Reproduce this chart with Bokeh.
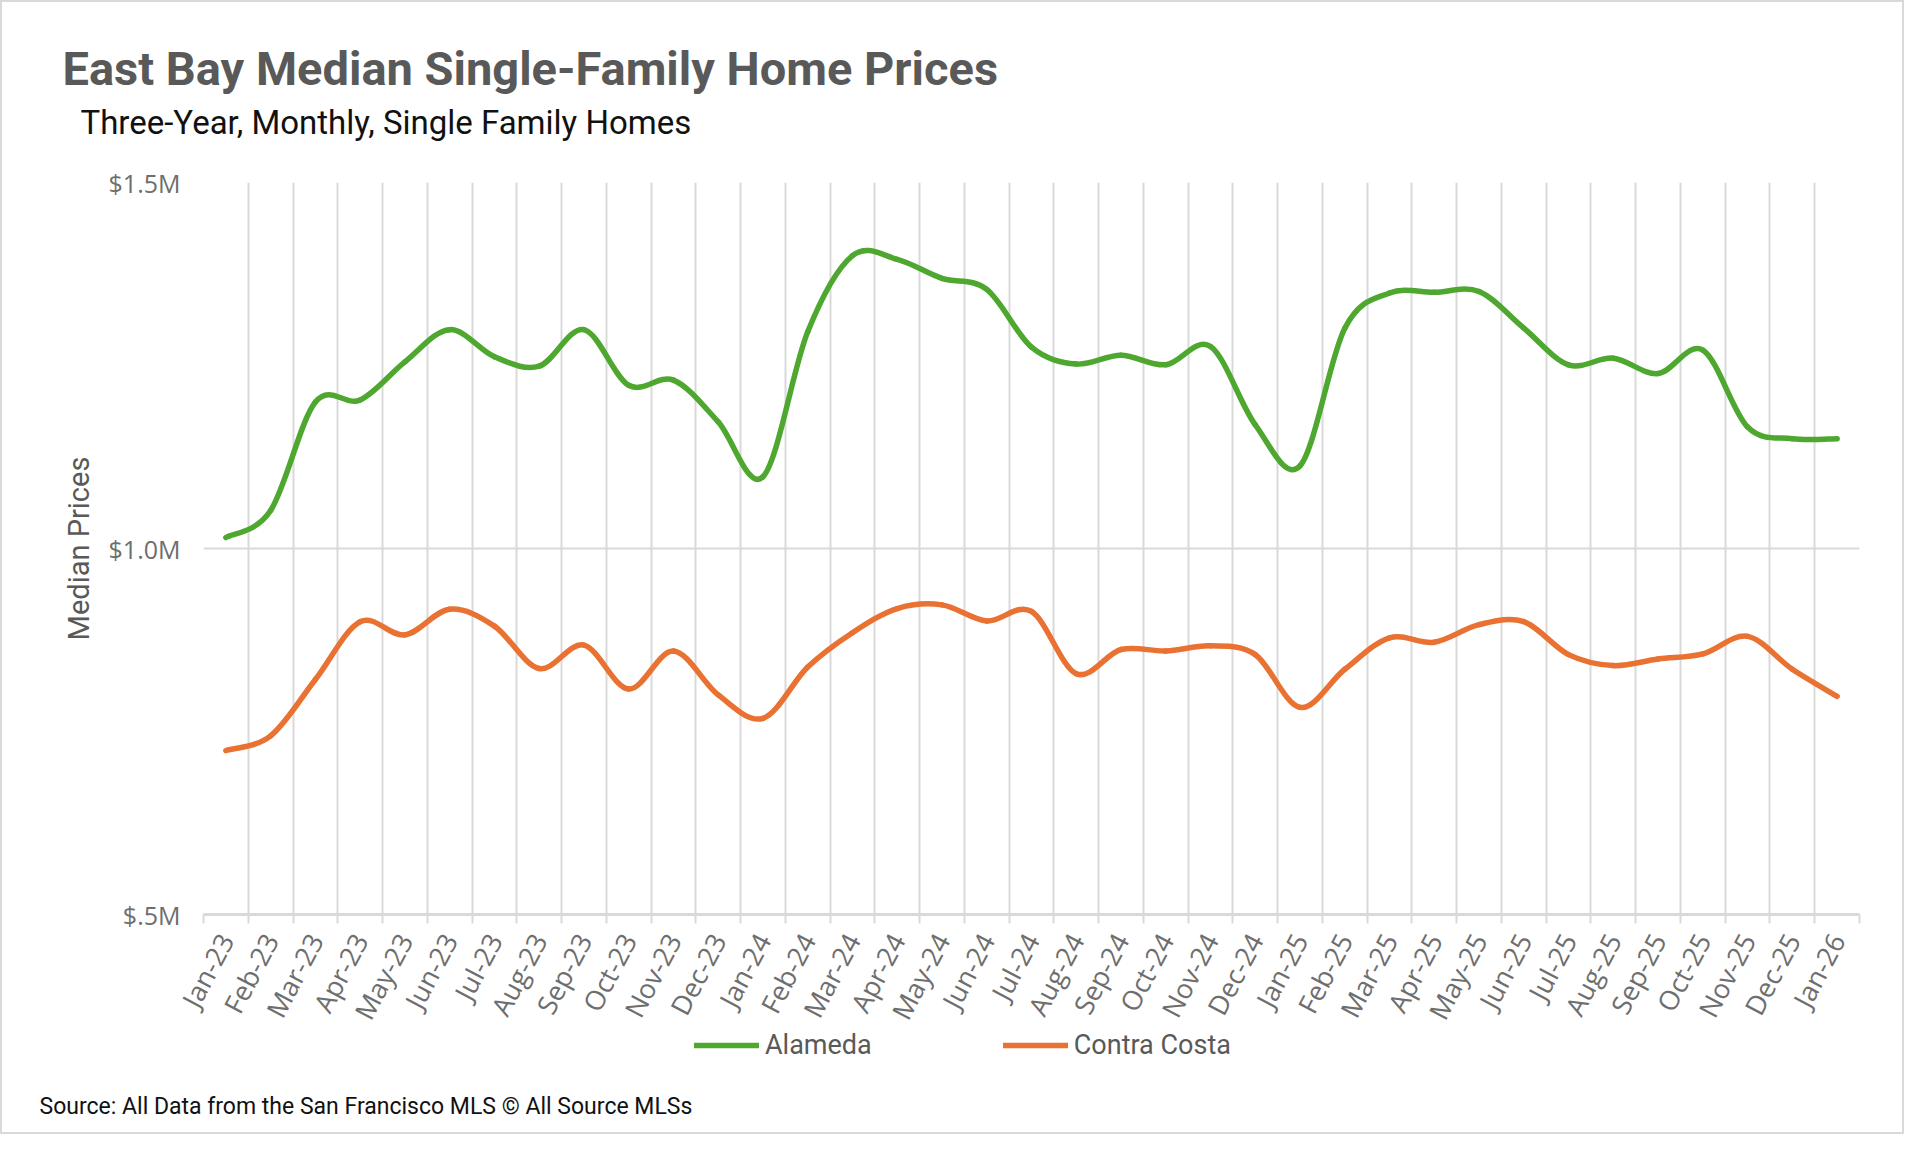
import numpy as np
from bokeh.plotting import figure
from bokeh.layouts import column
from bokeh.models import Range1d, FixedTicker, Title, Legend, LegendItem, ColumnDataSource
from bokeh.embed import file_html
from bokeh.resources import INLINE

# ---------------- data ----------------
months = ["Jan-23", "Feb-23", "Mar-23", "Apr-23", "May-23", "Jun-23", "Jul-23", "Aug-23",
          "Sep-23", "Oct-23", "Nov-23", "Dec-23", "Jan-24", "Feb-24", "Mar-24", "Apr-24",
          "May-24", "Jun-24", "Jul-24", "Aug-24", "Sep-24", "Oct-24", "Nov-24", "Dec-24",
          "Jan-25", "Feb-25", "Mar-25", "Apr-25", "May-25", "Jun-25", "Jul-25", "Aug-25",
          "Sep-25", "Oct-25", "Nov-25", "Dec-25", "Jan-26"]

# median prices in $ millions
alameda = [1.015, 1.052, 1.200, 1.203, 1.255, 1.299, 1.262, 1.249, 1.299, 1.223, 1.230, 1.173,
           1.098, 1.296, 1.400, 1.395, 1.369, 1.354, 1.275, 1.252, 1.264, 1.251, 1.276, 1.169,
           1.113, 1.301, 1.349, 1.350, 1.351, 1.301, 1.251, 1.260, 1.239, 1.271, 1.166, 1.150,
           1.150]
contra_costa = [0.724, 0.744, 0.821, 0.900, 0.882, 0.917, 0.894, 0.836, 0.868, 0.808, 0.860, 0.800,
                0.768, 0.838, 0.885, 0.918, 0.923, 0.901, 0.914, 0.829, 0.862, 0.860, 0.867, 0.855,
                0.783, 0.835, 0.878, 0.872, 0.896, 0.900, 0.855, 0.840, 0.849, 0.856, 0.880, 0.835,
                0.798]

series_names = ["Alameda", "Contra Costa"]
series_colors = ["#4EA72E", "#E97132"]

y_ticks = [0.5, 1.0, 1.5]
y_tick_labels = ["$.5M", "$1.0M", "$1.5M"]

title_text = "East Bay Median Single-Family Home Prices"
subtitle_text = "Three-Year, Monthly, Single Family Homes"
source_text = "Source: All Data from the San Francisco MLS \u00a9 All Source MLSs"
y_title = "Median Prices"

GRID = "#D9D9D9"
LABEL = "#6E6E6E"
LINE_W = 5.5

n = len(months)
W = 1900
MAIN_H = 180 + 732 + 130
OVERLAP = 20
BOT_H = 1130 - MAIN_H + OVERLAP

# ---------------- main plot ----------------
p = figure(width=W, height=MAIN_H, output_backend="svg", toolbar_location=None,
           x_range=Range1d(-0.5, n - 0.5), y_range=Range1d(y_ticks[0], y_ticks[-1]),
           min_border_left=201, min_border_right=43, min_border_top=180, min_border_bottom=130)
p.outline_line_color = None
p.background_fill_color = "white"
p.border_fill_color = "white"


def smooth_source(vals):
    # cubic Bezier segments through the data points (Excel-style smoothed line)
    m = len(vals)
    d = dict(x0=[], y0=[], x1=[], y1=[], cx0=[], cy0=[], cx1=[], cy1=[])
    for i in range(m - 1):
        pm = i - 1 if i > 0 else i
        pp = i + 2 if i + 2 < m else i + 1
        d["x0"].append(i)
        d["y0"].append(vals[i])
        d["x1"].append(i + 1)
        d["y1"].append(vals[i + 1])
        d["cx0"].append(i + (i + 1 - pm) / 6.0)
        d["cy0"].append(vals[i] + (vals[i + 1] - vals[pm]) / 6.0)
        d["cx1"].append(i + 1 - (pp - i) / 6.0)
        d["cy1"].append(vals[i + 1] - (vals[pp] - vals[i]) / 6.0)
    return ColumnDataSource(d)


for vals, color in zip([alameda, contra_costa], series_colors):
    p.bezier(x0="x0", y0="y0", x1="x1", y1="y1", cx0="cx0", cy0="cy0", cx1="cx1", cy1="cy1",
             source=smooth_source(vals), line_color=color, line_width=LINE_W, line_cap="round")

xa = p.xaxis[0]
xa.ticker = FixedTicker(ticks=list(range(n)), minor_ticks=[i - 0.5 for i in range(n + 1)])
xa.major_label_overrides = {i: m for i, m in enumerate(months)}
xa.major_label_orientation = 1.085
xa.major_tick_line_color = None
xa.major_tick_out = 0
xa.major_tick_in = 0
xa.minor_tick_line_color = GRID
xa.minor_tick_line_width = 2
xa.minor_tick_out = 9
xa.minor_tick_in = 0
xa.axis_line_color = GRID
xa.axis_line_width = 3
xa.major_label_text_font = "Open Sans"
xa.major_label_text_font_size = "27px"
xa.major_label_text_color = LABEL
xa.major_label_standoff = 12

ya = p.yaxis[0]
ya.ticker = FixedTicker(ticks=y_ticks)
ya.major_label_overrides = dict(zip(y_ticks, y_tick_labels))
ya.axis_line_color = None
ya.major_tick_line_color = None
ya.minor_tick_line_color = None
ya.major_tick_out = 0
ya.major_tick_in = 0
ya.major_label_standoff = 23
ya.major_label_text_font = "Open Sans"
ya.major_label_text_font_size = "25px"
ya.major_label_text_color = LABEL
ya.axis_label = y_title
ya.axis_label_text_font = "Roboto"
ya.axis_label_text_font_size = "29px"
ya.axis_label_text_font_style = "normal"
ya.axis_label_text_color = "#595959"
ya.axis_label_standoff = 10

p.xgrid.ticker = FixedTicker(ticks=[i - 0.5 for i in range(n + 1)])
p.xgrid.grid_line_color = GRID
p.xgrid.grid_line_width = 2
p.ygrid.ticker = FixedTicker(ticks=y_ticks[1:])
p.ygrid.grid_line_color = GRID
p.ygrid.grid_line_width = 2

# titles stacked above the frame: spacer, subtitle, title (outward)
p.add_layout(Title(text="\u00a0", text_font="Roboto", text_font_size="10px",
                   standoff=28), "above")
p.add_layout(Title(text=subtitle_text, text_font="Roboto", text_font_size="33px",
                   text_font_style="normal", text_color="#111111", align="left",
                   offset=-123, standoff=0), "above")
p.add_layout(Title(text=title_text, text_font="Roboto", text_font_size="47px",
                   text_font_style="bold", text_color="#595959", align="left",
                   offset=-141, standoff=9), "above")

# ---------------- footer: legend + source ----------------
bot = figure(width=W, height=BOT_H, output_backend="svg", toolbar_location=None,
             x_range=Range1d(0, W), y_range=Range1d(0, 1),
             x_axis_type=None, y_axis_type=None,
             min_border_top=0, min_border_bottom=42, min_border_left=0, min_border_right=0,
             margin=(-OVERLAP, 0, 0, 0))
bot.outline_line_color = None
bot.background_fill_alpha = 0
bot.border_fill_alpha = 0
legend_renderers = [bot.line(x=[-100, -90], y=[-5, -5], line_color=c, line_width=LINE_W,
                             line_cap="round") for c in series_colors]
legend = Legend(items=[LegendItem(label=nm, renderers=[r])
                       for nm, r in zip(series_names, legend_renderers)],
                orientation="horizontal", location=(491, 29),
                glyph_width=65, glyph_height=30, label_standoff=6, spacing=131,
                padding=0, margin=0, border_line_color=None, background_fill_alpha=0,
                label_text_font="Roboto", label_text_font_size="27px",
                label_text_color="#595959")
bot.add_layout(legend)
bot.add_layout(Title(text=source_text, text_font="Roboto", text_font_size="23px",
                     text_font_style="normal", text_color="#111111", align="left",
                     offset=-164, standoff=0), "below")

layout = column(p, bot, spacing=0, styles={"border": "2px solid #D9D9D9"})

open("out.html", "w").write(file_html(layout, INLINE))
